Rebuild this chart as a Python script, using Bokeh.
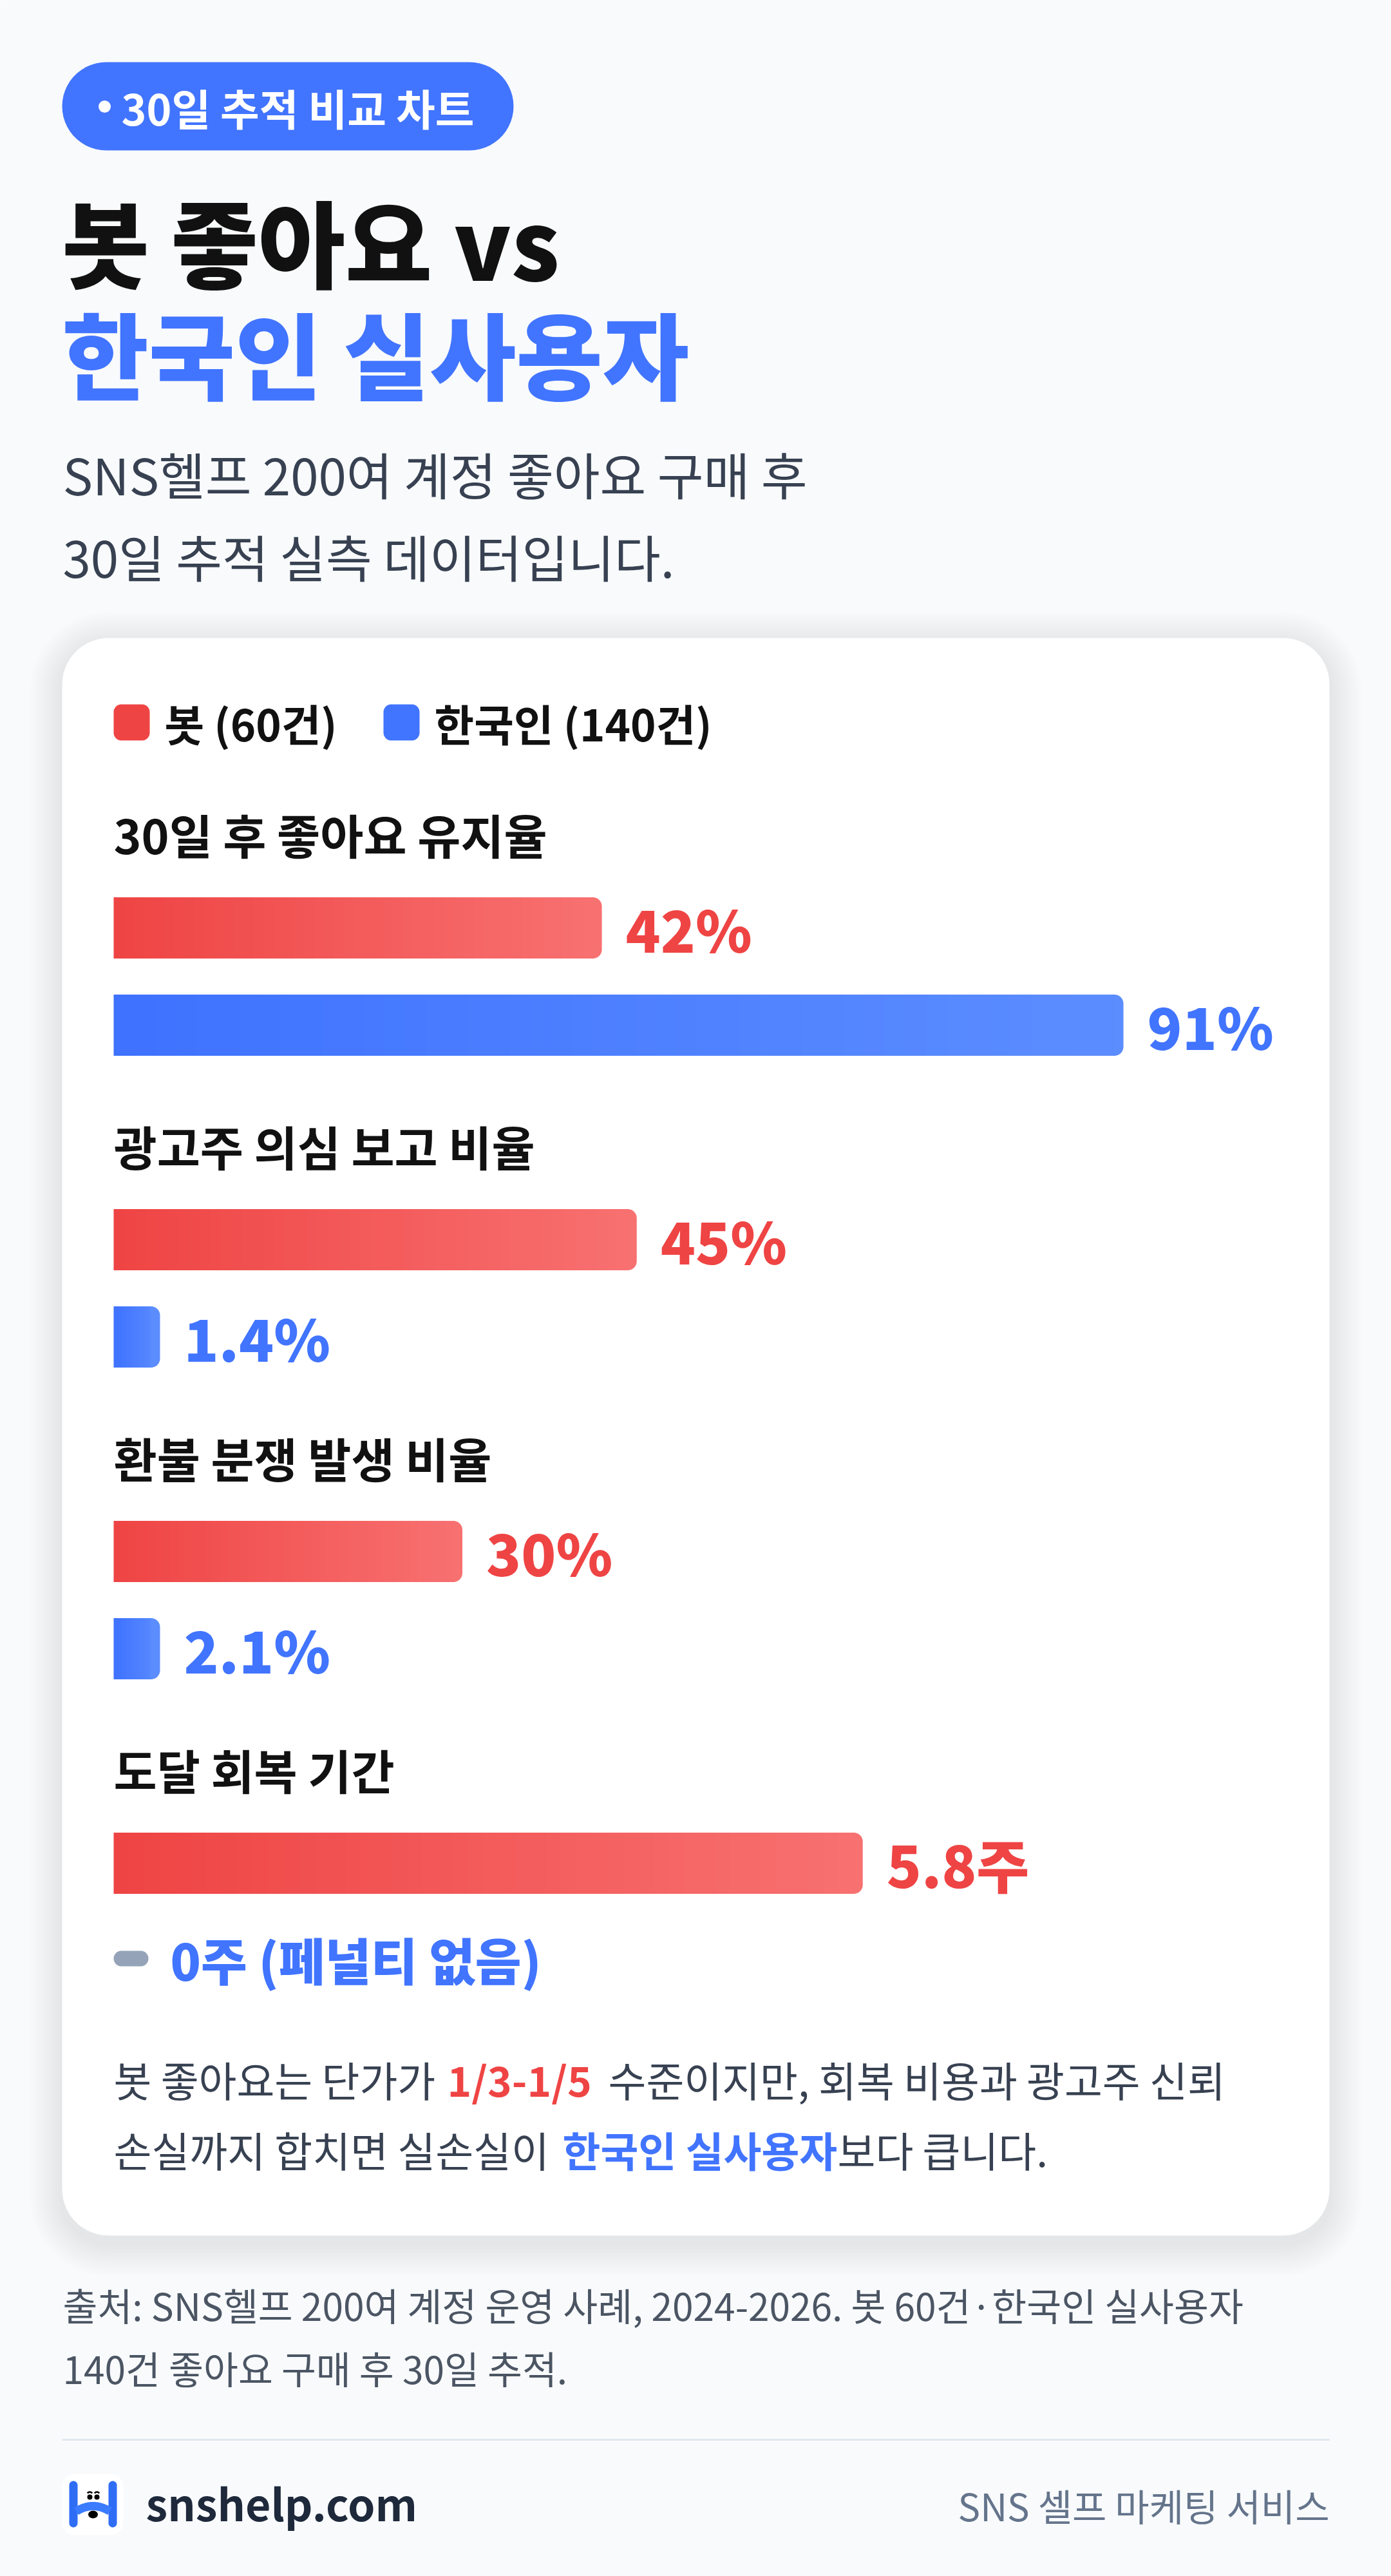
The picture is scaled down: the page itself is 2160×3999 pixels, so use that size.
import numpy as np
from bokeh.plotting import figure
from bokeh.models import Range1d
from bokeh.core.properties import value
from bokeh.embed import file_html
from bokeh.resources import INLINE

# ---------------- data ----------------
badge_text = "30일 추적 비교 차트"
title_line1 = "봇 좋아요 vs"
title_line2 = "한국인 실사용자"
subtitle_lines = ["SNS헬프 200여 계정 좋아요 구매 후", "30일 추적 실측 데이터입니다."]
legend_labels = ["봇 (60건)", "한국인 (140건)"]
metrics = ["30일 후 좋아요 유지율", "광고주 의심 보고 비율", "환불 분쟁 발생 비율", "도달 회복 기간"]
bot_values = [42, 45, 30, 5.8]
korean_values = [91, 1.4, 2.1, 0]
bot_labels = ["42%", "45%", "30%", "5.8주"]
korean_labels = ["91%", "1.4%", "2.1%", "0주 (페널티 없음)"]
metric_scale = ["pct", "pct", "pct", "wk"]
scale_max = {"pct": 100.0, "wk": 9.0}
note_line1 = ["봇 좋아요는 단가가", "1/3-1/5", "수준이지만, 회복 비용과 광고주 신뢰"]
note_line2 = ["손실까지 합치면 실손실이", "한국인 실사용자", "보다 큽니다."]
source_lines = ["출처: SNS헬프 200여 계정 운영 사례, 2024-2026. 봇 60건·한국인 실사용자",
                "140건 좋아요 구매 후 30일 추적."]
brand = "snshelp.com"
tagline = "SNS 셀프 마케팅 서비스"

# ---------------- style / layout ----------------
KR = "Noto Sans CJK KR"
KR_HEAVY = "Noto Sans CJK KR Black, Noto Sans CJK KR"
BG = "#f8fafc"
RED0, RED1, RED_T = "#ef4444", "#f87171", "#ef4444"
BLU0, BLU1, BLU_T = "#3e72ff", "#5c8dff", "#4174ff"
INK = "#111111"
GRAY_TXT = "#374151"

W_FIG, H_FIG = 2160, 3999
TRACK_X0, TRACK_W = 176, 1805
BAR_H, BAR_R = 95, 14
MIN_BAR_PX, LABEL_GAP, LABEL_ROOM = 72, 37, 237
ROW0, ROW_STEP, HEAD_DY, BLUE_DY, ZERO_DY = 1440, 484, -147, 151, 148

p = figure(width=W_FIG, height=H_FIG, output_backend="svg", toolbar_location=None,
           x_range=Range1d(0, W_FIG), y_range=Range1d(H_FIG, 0),
           x_axis_type=None, y_axis_type=None, min_border=0)
p.outline_line_color = None
p.background_fill_color = BG
p.border_fill_color = BG
p.grid.visible = False

lo = (0 - TRACK_X0) / TRACK_W
hi = (W_FIG - TRACK_X0) / TRACK_W
p.extra_x_ranges = {name: Range1d(lo * m, hi * m) for name, m in scale_max.items()}


def rr(x0, x1, y0, y1, rx, ry, corners=(1, 1, 1, 1), n=14):
    xs, ys = [], []
    specs = [(x0 + rx, y0 + ry, 180, 270, corners[0], (x0, y0)),
             (x1 - rx, y0 + ry, 270, 360, corners[1], (x1, y0)),
             (x1 - rx, y1 - ry, 0, 90, corners[2], (x1, y1)),
             (x0 + rx, y1 - ry, 90, 180, corners[3], (x0, y1))]
    for cx, cy, a0, a1, on, c in specs:
        if on:
            t = np.radians(np.linspace(a0, a1, n))
            xs += list(cx + rx * np.cos(t))
            ys += list(cy + ry * np.sin(t))
        else:
            xs.append(c[0]); ys.append(c[1])
    return xs, ys


def hex2rgb(h):
    h = h.lstrip("#")
    return np.array([int(h[i:i + 2], 16) for i in (0, 2, 4)], float)


def lerp(c0, c1, t):
    a, b = hex2rgb(c0), hex2rgb(c1)
    c = a + (b - a) * t
    return "#%02x%02x%02x" % tuple(int(round(v)) for v in c)


def txt(x, y, s, size, color, bold=False, align="left", baseline="middle", font=KR, **kw):
    p.text(x=[x], y=[y], text=[s], text_font=value(font), text_font_size=f"{size}px",
           text_font_style="bold" if bold else "normal", text_color=color,
           text_align=align, text_baseline=baseline, **kw)


# ---------------- header ----------------
xs, ys = rr(96, 797, 96, 233, 68.5, 68.5)
p.patch(xs, ys, fill_color=BLU_T, line_color=None)
p.scatter(x=[162], y=[165], size=19, marker="circle", fill_color="white", line_color=None)
txt(188, 165, badge_text, 66, "white", bold=True)

txt(96, 371, title_line1, 147, INK, bold=True, font=KR_HEAVY)
txt(96, 545, title_line2, 146, BLU_T, bold=True, font=KR_HEAVY)
txt(97, 734, subtitle_lines[0], 78, GRAY_TXT)
txt(97, 862, subtitle_lines[1], 78, GRAY_TXT)

# ---------------- card with soft shadow ----------------
CX0, CX1, CY0, CY1, CR = 96, 2064, 990, 3470, 72
for i in range(10, 0, -1):
    e = i * 5
    xs, ys = rr(CX0 - e, CX1 + e, CY0 - e + 10, CY1 + e + 12, CR + e, CR + e)
    p.patch(xs, ys, fill_color="#0f172a", fill_alpha=0.006, line_color=None)
xs, ys = rr(CX0, CX1, CY0, CY1, CR, CR)
p.patch(xs, ys, fill_color="white", line_color=None)

# legend
for (lx, tx), col, lab in zip([(176, 255), (595, 674)], [RED_T, BLU_T], legend_labels):
    xs, ys = rr(lx, lx + 56, 1093, 1149, 12, 12)
    p.patch(xs, ys, fill_color=col, line_color=None)
    txt(tx, 1121, lab, 67, INK, bold=True)


def draw_bar(val, yc, scale, c0, c1, label, tcolor):
    m = scale_max[scale]
    k = m / TRACK_W  # units per pixel
    if val <= 0:
        w = 54 * k
        xs, ys = rr(0, w, yc - 12, yc + 12, 12 * k, 12)
        p.patch(xs, ys, fill_color="#94a3b8", line_color=None, x_range_name=scale)
        p.text(x=[w], y=[yc], text=[label], x_offset=34, text_font=value(KR_HEAVY),
               text_font_size="78px", text_font_style="bold", text_color=tcolor,
               text_baseline="middle", x_range_name=scale)
        return
    disp = min(max(val, MIN_BAR_PX * k), m - LABEL_ROOM * k)
    rk = BAR_R * k
    body = disp - rk
    n = 48
    edges = np.linspace(0, body, n + 1)
    cols = [lerp(c0, c1, ((edges[j] + edges[j + 1]) / 2) / disp) for j in range(n)]
    p.quad(left=edges[:-1], right=edges[1:] + 0.8 * k, top=[yc - BAR_H / 2] * n,
           bottom=[yc + BAR_H / 2] * n, fill_color=cols, line_color=None, x_range_name=scale)
    xs, ys = rr(body - 0.5 * k, disp, yc - BAR_H / 2, yc + BAR_H / 2, rk, BAR_R, corners=(0, 1, 1, 0))
    p.patch(xs, ys, fill_color=c1, line_color=None, x_range_name=scale)
    p.text(x=[disp], y=[yc], text=[label], x_offset=LABEL_GAP, text_font=value(KR_HEAVY),
           text_font_size="89px", text_font_style="bold", text_color=tcolor,
           text_baseline="middle", x_range_name=scale)


for i, name in enumerate(metrics):
    yr = ROW0 + i * ROW_STEP
    txt(176, yr + HEAD_DY, name, 73, INK, bold=True)
    draw_bar(bot_values[i], yr, metric_scale[i], RED0, RED1, bot_labels[i], RED_T)
    yb = yr + (ZERO_DY if korean_values[i] <= 0 else BLUE_DY)
    draw_bar(korean_values[i], yb, metric_scale[i], BLU0, BLU1, korean_labels[i], BLU_T)

# note
txt(176, 3226, note_line1[0], 64, GRAY_TXT)
txt(694, 3226, note_line1[1], 64, RED_T, bold=True)
txt(944, 3226, note_line1[2], 64, GRAY_TXT)
txt(176, 3335, note_line2[0], 64, GRAY_TXT)
txt(873, 3335, note_line2[1], 64, BLU_T, bold=True)
txt(1300, 3335, note_line2[2], 64, GRAY_TXT)

# ---------------- footer ----------------
txt(97, 3577, source_lines[0], 58.6, "#4b5563")
txt(97, 3675, source_lines[1], 58.6, "#4b5563")
p.line(x=[96, 2064], y=[3787, 3787], line_color="#e2e8f0", line_width=3)

# logo
xs, ys = rr(96, 191, 3840, 3935, 20, 20)
p.patch(xs, ys, fill_color="white", line_color=None)
for bx in (107, 168):
    xs, ys = rr(bx, bx + 13, 3851, 3923, 6.5, 6.5)
    p.patch(xs, ys, fill_color="#2f6df5", line_color=None)
t = np.linspace(0, 1, 30)
cxs = (1 - t) ** 2 * 118 + 2 * (1 - t) * t * 144 + t ** 2 * 170
cys = (1 - t) ** 2 * 3898 + 2 * (1 - t) * t * 3882 + t ** 2 * 3898
p.line(x=cxs, y=cys, line_color="#3b7bff", line_width=13)
p.scatter(x=[139, 150], y=[3876, 3876], size=8, marker="circle", fill_color="black", line_color=None)
p.arc(x=[139, 150], y=[3872, 3872], radius=4, start_angle=np.pi * 0.15, end_angle=np.pi * 0.85,
      line_color="black", line_width=2.5, direction="anticlock")
p.ellipse(x=[144], y=[3903], width=15, height=12, fill_color="black", line_color=None)

txt(226, 3884, brand, 68, "#1e293b", bold=True)
txt(2064, 3888, tagline, 58, "#64748b", align="right")

open("out.html", "w").write(file_html(p, INLINE))
